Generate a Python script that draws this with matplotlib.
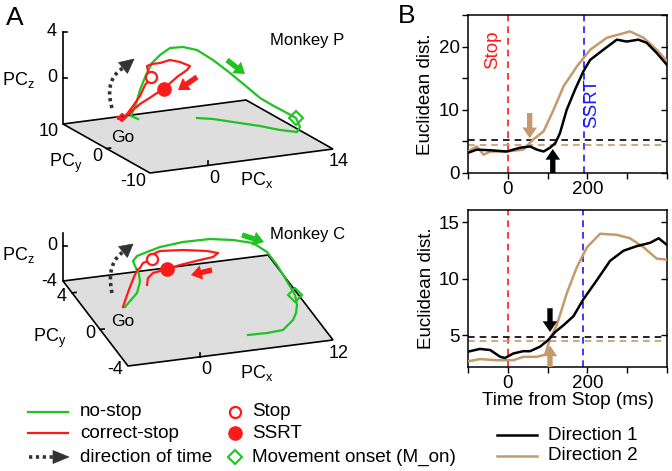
import numpy as np
import matplotlib
matplotlib.use("Agg")
import matplotlib.pyplot as plt
from matplotlib.patches import Polygon, FancyArrowPatch

plt.rcParams['font.family'] = ['Liberation Sans', 'DejaVu Sans']
plt.rcParams['mathtext.default'] = 'regular'

GREEN = '#1fc31f'
RED = '#ff1a1a'
TAN = '#c49a6c'
BLUE = '#1a1aff'
DARK = '#333333'

# ---- panel A: projected trajectories (picture coordinates, px) ----
p_nostop_u = [138, 131, 136, 140, 146, 152, 160, 170, 183, 197, 213, 230, 247, 260, 272, 287, 296,
              300, 297, 280, 260, 233, 213, 197]
p_nostop_v = [119, 116, 104, 90, 75, 63, 55, 48, 47, 50, 60, 73, 87, 98, 105, 113, 118,
              127, 132, 130, 126, 122, 119, 118]
p_stop_u = [117, 121, 126, 122, 118, 124, 133, 140, 145, 149, 151, 148, 147, 152, 160, 170, 180, 190,
            187, 177, 168, 164, 157, 148, 140, 133, 127, 122]
p_stop_v = [117, 120, 117, 114, 119, 118, 106, 96, 85, 80, 77, 71, 66, 64, 63, 60, 62, 66,
            70, 77, 85, 89, 93, 99, 104, 110, 116, 121]
p_stop_mark = (151, 77)
p_ssrt_mark = (164, 89)
p_mon_mark = (296, 118)

c_nostop_u = [125, 131, 137, 140, 139, 135, 133, 137, 147, 160, 183, 210, 233, 253, 267, 277, 285, 291,
              295, 297, 296, 293, 283, 267, 248]
c_nostop_v = [307, 300, 293, 282, 274, 266, 261, 256, 252, 247, 242, 239, 240, 243, 252, 265, 278, 288,
              295, 305, 313, 320, 330, 333, 335]
c_stop_u = [123, 126, 130, 134, 137, 140, 143, 148, 152, 155, 160, 183, 207, 218, 213, 200, 180, 167,
            153, 148, 147]
c_stop_v = [307, 298, 287, 277, 270, 268, 263, 261, 259, 253, 251, 250, 251, 253, 257, 260, 265, 269,
            273, 278, 285]
c_stop_mark = (152, 259)
c_ssrt_mark = (167, 269)
c_mon_mark = (295, 295)

# ---- panel B: Euclidean distance vs time from Stop ----
p_t1 = [-100, -78, -44, -3, 31, 56, 73, 90, 106, 119, 131, 148, 169, 190, 207, 240, 274, 299, 328, 349, 374, 400]
p_d1 = [3.2, 3.7, 3.6, 3.4, 4.0, 4.2, 3.7, 3.4, 4.0, 4.7, 6.3, 10.0, 13.2, 16.1, 17.9, 19.5, 21.1, 20.8, 21.1,
        20.6, 19.0, 17.1]
p_t2 = [-100, -78, -61, -44, -3, 39, 64, 90, 115, 140, 174, 207, 249, 307, 341, 374, 400]
p_d2 = [3.4, 4.2, 2.9, 3.4, 3.4, 3.7, 5.3, 6.6, 10.0, 13.7, 16.9, 19.5, 21.4, 22.4, 21.4, 19.5, 17.7]
c_t1 = [-100, -70, -44, -19, -7, 14, 39, 56, 81, 102, 119, 140, 165, 190, 224, 257, 291, 324, 358, 379, 400]
c_d1 = [3.56, 3.8, 3.7, 3.1, 3.0, 3.4, 3.6, 3.6, 4.0, 4.6, 5.3, 5.9, 6.7, 8.2, 9.9, 11.6, 12.5, 12.9, 13.2,
        13.6, 13.0]
c_t2 = [-100, -70, -28, 14, 39, 73, 94, 106, 123, 148, 173, 199, 232, 274, 307, 341, 374, 400]
c_d2 = [2.7, 2.9, 2.8, 2.8, 3.1, 3.1, 3.3, 4.7, 5.9, 8.7, 11.0, 12.8, 14.0, 13.9, 13.6, 12.8, 11.8, 11.7]

p_thresh = (5.2, 4.4)
c_thresh = (4.85, 4.5)
p_ssrt = 192
c_ssrt = 188
p_onset = (113, 55)   # direction 1, direction 2
c_onset = (106, 106)

W, H = 672, 471
fig = plt.figure(figsize=(W / 100, H / 100), dpi=100)
ax_a = fig.add_axes([0, 0, 1, 1])
ax_a.set_xlim(0, W)
ax_a.set_ylim(H, 0)
ax_a.axis('off')


def px_rect(l, t, r, b):
    return [l / W, 1 - b / H, (r - l) / W, (b - t) / H]


def draw_space(ax, fl, fr, bl, xr, yr, zr, pz, ztop, xticks, yticks, zticks, yoff, fs=13):
    fl, fr, bl = np.array(fl, float), np.array(fr, float), np.array(bl, float)
    br = fr + bl - fl
    ax.add_patch(Polygon([fl, fr, br, bl], closed=True, fc='#dedede', ec='k', lw=1.2, zorder=1))
    ex = (fr - fl) / np.hypot(*(fr - fl))

    def floor(x, y):
        return fl + (x - xr[0]) / (xr[1] - xr[0]) * (fr - fl) + (y - yr[0]) / (yr[1] - yr[0]) * (bl - fl)

    def zpix(z):
        return bl[1] - (z - zr) * pz

    ax.plot([bl[0], bl[0]], [bl[1], zpix(ztop)], color='k', lw=1.2, zorder=2)
    for z in zticks:
        if z != zr:
            ax.plot([bl[0], bl[0] + 4], [zpix(z)] * 2, color='k', lw=1.2)
        ax.text(bl[0] - 6, zpix(z), f'{z:g}', ha='right', va='center', fontsize=fs)
    for y in yticks:
        p = floor(xr[0], y)
        if yr[0] < y < yr[1]:
            q = p + 4 * ex
            ax.plot([p[0], q[0]], [p[1], q[1]], color='k', lw=1.2)
        ax.text(p[0] + yoff[0], p[1] + yoff[1], f'{y:g}', ha='right', va='center', fontsize=fs)
    for x in xticks:
        p = floor(x, yr[0])
        if xr[0] < x < xr[1]:
            ax.plot([p[0], p[0]], [p[1], p[1] - 4], color='k', lw=1.2)
        ax.text(p[0] + 6, p[1] + 13, f'{x:g}', ha='center', va='center', fontsize=fs)


def block_arrow(ax, start, end, color, scale=7):
    ax.add_patch(FancyArrowPatch(start, end, arrowstyle='simple,head_length=1.1,head_width=1.5,tail_width=0.55',
                                 mutation_scale=scale, lw=0, color=color, zorder=7,
                                 shrinkA=0, shrinkB=0))


def arrow_head(ax, base, tip, color, width):
    base, tip = np.array(base, float), np.array(tip, float)
    d = tip - base
    n = np.array([-d[1], d[0]]) / np.hypot(*d)
    ax.add_patch(Polygon([tip, base + n * width / 2, base - n * width / 2], closed=True,
                         fc=color, ec=color, lw=0.5, zorder=6))


def time_arrow(ax, p0, p1, p2, tip):
    s = np.linspace(0, 1, 40)[:, None]
    p0, p1, p2 = np.array(p0, float), np.array(p1, float), np.array(p2, float)
    curve = (1 - s) ** 2 * p0 + 2 * s * (1 - s) * p1 + s ** 2 * p2
    ax.plot(curve[:, 0], curve[:, 1], color=DARK, lw=2.6, ls=(0, (0.9, 1.0)), zorder=5)
    arrow_head(ax, p2, tip, DARK, 14)


# Monkey P
draw_space(ax_a, (150, 173), (333, 149), (63, 124), (-6.5, 14), (-10, 10), -4, 11.5, 4,
           [0, 14], [10, 0, -10], [4, 0], (-4, 8))
ax_a.text(18, 80, 'PC$_z$', ha='center', va='center', fontsize=13)
ax_a.text(66, 163, 'PC$_y$', ha='center', va='center', fontsize=13)
ax_a.text(257, 180, 'PC$_x$', ha='center', va='center', fontsize=13)
ax_a.text(123, 137, 'Go', ha='center', va='center', fontsize=12.5)
ax_a.text(270, 40, 'Monkey P', ha='left', va='center', fontsize=12)
ax_a.plot(p_nostop_u, p_nostop_v, color=GREEN, lw=1.6, zorder=3)
ax_a.plot(p_stop_u, p_stop_v, color=RED, lw=1.6, zorder=4)
ax_a.plot(*p_stop_mark, 'o', ms=8, mfc='white', mec=RED, mew=1.6, zorder=6)
ax_a.plot(*p_ssrt_mark, 'o', ms=9.5, color=RED, zorder=6)
ax_a.plot(*p_mon_mark, 'D', ms=7, mfc='none', mec=GREEN, mew=1.5, zorder=6)
block_arrow(ax_a, (227, 60), (245, 74), GREEN)
block_arrow(ax_a, (197, 77), (178, 90), RED)
time_arrow(ax_a, (112, 108), (104, 80), (123, 68), (134, 59))

# Monkey C
draw_space(ax_a, (128, 366), (333, 340), (63, 281), (-6.5, 12), (-4, 5.3), -4, 8.75, 1.5,
           [0, 12], [4, 0, -4], [0, -4], (-5, 4))
ax_a.text(18, 255, 'PC$_z$', ha='center', va='center', fontsize=13)
ax_a.text(50, 338, 'PC$_y$', ha='center', va='center', fontsize=13)
ax_a.text(257, 373, 'PC$_x$', ha='center', va='center', fontsize=13)
ax_a.text(123, 322, 'Go', ha='center', va='center', fontsize=12.5)
ax_a.text(270, 235, 'Monkey C', ha='left', va='center', fontsize=12)
ax_a.plot(c_nostop_u, c_nostop_v, color=GREEN, lw=1.6, zorder=3)
ax_a.plot(c_stop_u, c_stop_v, color=RED, lw=1.6, zorder=4)
ax_a.plot(*c_stop_mark, 'o', ms=8, mfc='white', mec=RED, mew=1.6, zorder=6)
ax_a.plot(*c_ssrt_mark, 'o', ms=9.5, color=RED, zorder=6)
ax_a.plot(*c_mon_mark, 'D', ms=7, mfc='none', mec=GREEN, mew=1.5, zorder=6)
block_arrow(ax_a, (242, 235), (264, 242), GREEN)
block_arrow(ax_a, (212, 270), (191, 275), RED)
time_arrow(ax_a, (112, 293), (106, 264), (123, 252), (133, 244))

# legend A
ax_a.plot([28, 68], [412, 412], color=GREEN, lw=1.6)
ax_a.plot([28, 68], [433, 433], color=RED, lw=1.6)
ax_a.plot([29, 54], [457, 457], color=DARK, lw=2.6, ls=(0, (0.9, 1.0)))
arrow_head(ax_a, (53, 457), (69, 457), DARK, 13)
for y, s in [(412, 'no-stop'), (433, 'correct-stop'), (457, 'direction of time')]:
    ax_a.text(80, y, s, ha='left', va='center', fontsize=13.6)
ax_a.plot(235, 412, 'o', ms=8, mfc='white', mec=RED, mew=1.6)
ax_a.plot(235, 433, 'o', ms=9.5, color=RED)
ax_a.plot(235, 457, 'D', ms=7, mfc='none', mec=GREEN, mew=1.5)
for y, s in [(412, 'Stop'), (433, 'SSRT'), (457, 'Movement onset (M_on)')]:
    ax_a.text(252, y, s, ha='left', va='center', fontsize=13.6)

ax_a.text(15, 18, 'A', ha='center', va='center', fontsize=19)
ax_a.text(407, 16, 'B', ha='center', va='center', fontsize=19)

# legend B
ax_a.plot([497, 537], [435, 435], color='k', lw=1.8)
ax_a.plot([497, 537], [456, 456], color=TAN, lw=1.8)
ax_a.text(548, 435, 'Direction 1', ha='left', va='center', fontsize=13.6)
ax_a.text(548, 456, 'Direction 2', ha='left', va='center', fontsize=13.6)


def dist_panel(rect, t1, d1, t2, d2, thresh, ssrt, ylim, yticks, ylabels):
    ax = fig.add_axes(rect)
    ax.plot(t1, d1, color='k', lw=1.8, zorder=4)
    ax.plot(t2, d2, color=TAN, lw=1.8, zorder=3)
    ax.axvline(0, color=RED, lw=1.2, ls=(0, (4, 3)))
    ax.axvline(ssrt, color=BLUE, lw=1.2, ls=(0, (4, 3)))
    ax.axhline(thresh[0], color='k', lw=1.2, ls=(0, (4, 3)))
    ax.axhline(thresh[1], color=TAN, lw=1.2, ls=(0, (4, 3)))
    ax.set_xlim(-100, 400)
    ax.set_ylim(*ylim)
    ax.set_xticks([-100, 0, 100, 200, 300, 400])
    ax.set_xticklabels(['', '0', '', '200', '', ''])
    ax.set_yticks(yticks)
    ax.set_yticklabels(ylabels)
    ax.tick_params(labelsize=13.5, length=4, width=1, pad=2, direction='out')
    ax.tick_params(axis='y', right=True)
    for tk in ax.yaxis.get_major_ticks():
        tk.tick2line.set_marker(matplotlib.lines.TICKLEFT)
    for s in ax.spines.values():
        s.set_linewidth(1.1)
    ax.set_ylabel('Euclidean dist.', fontsize=13.5, labelpad=3)
    return ax


def onset_arrow(ax, x, y0, y1, color):
    ax.add_patch(FancyArrowPatch((x, y0), (x, y1),
                                 arrowstyle='simple,head_length=1.1,head_width=1.5,tail_width=0.55',
                                 mutation_scale=7, lw=0, color=color, zorder=6,
                                 shrinkA=0, shrinkB=0, clip_on=False))


ax_b1 = dist_panel(px_rect(468, 15, 667, 173), p_t1, p_d1, p_t2, p_d2, p_thresh, p_ssrt,
                   (0, 25), [0, 5, 10, 15, 20, 25], ['0', '', '10', '', '20', ''])
ax_b1.text(-38, 19.5, 'Stop', color=RED, rotation=90, ha='center', va='center', fontsize=13.5)
ax_b1.text(211, 11, 'SSRT', color=BLUE, rotation=90, ha='center', va='center', fontsize=13.5)
onset_arrow(ax_b1, p_onset[1], 9.5, 5.5, TAN)
onset_arrow(ax_b1, p_onset[0], 0, 3.8, 'k')

ax_b2 = dist_panel(px_rect(468, 210, 667, 367), c_t1, c_d1, c_t2, c_d2, c_thresh, c_ssrt,
                   (2.2, 16.1), [5, 10, 15], ['5', '10', '15'])
ax_b2.set_xlabel('Time from Stop (ms)', fontsize=13.7, labelpad=0)
onset_arrow(ax_b2, c_onset[0], 7.4, 5.3, 'k')
onset_arrow(ax_b2, c_onset[1], 2.2, 4.1, TAN)

fig.savefig('out.png', dpi=100)
